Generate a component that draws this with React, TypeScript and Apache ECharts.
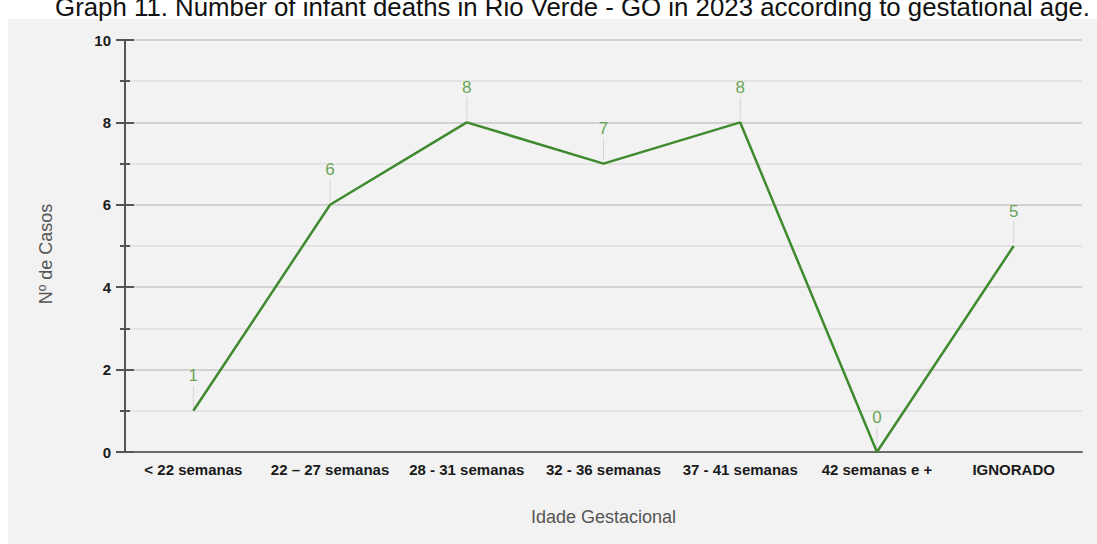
import React, { useEffect, useRef } from "react";
import * as echarts from "echarts";

const categories = [
  "< 22 semanas",
  "22 – 27 semanas",
  "28 - 31 semanas",
  "32 - 36 semanas",
  "37 - 41 semanas",
  "42 semanas e +",
  "IGNORADO",
];
const casos = [1, 6, 8, 7, 8, 0, 5];
const yTicks = [0, 2, 4, 6, 8, 10];

const titleText =
  "Graph 11. Number of infant deaths in Rio Verde - GO in 2023 according to gestational age.";

export default function App() {
  const ref = useRef<HTMLDivElement>(null);
  useEffect(() => {
    if (!ref.current) return;
    const chart = echarts.init(ref.current, null, { renderer: "svg" });
    const font = "'Liberation Sans', Arial, sans-serif";
    const yMin = yTicks[0];
    const yMax = yTicks[yTicks.length - 1];
    chart.setOption({
      animation: false,
      backgroundColor: "#ffffff",
      textStyle: { fontFamily: font },
      graphic: [
        {
          type: "rect",
          z: -10,
          silent: true,
          shape: { x: 8, y: 19, width: 1089, height: 525 },
          style: { fill: "#f2f2f2" },
        },
        {
          type: "text",
          x: 1090,
          y: 20,
          style: {
            text: titleText,
            font: `25.8px ${font}`,
            fill: "#111111",
            textAlign: "right",
            textVerticalAlign: "bottom",
          },
        },
      ],
      grid: { left: 125, right: 15, top: 40, bottom: 92, containLabel: false },
      xAxis: {
        type: "category",
        data: categories,
        boundaryGap: true,
        axisLine: { lineStyle: { color: "#6a6a6a", width: 2 } },
        axisTick: { show: false },
        axisLabel: {
          interval: 0,
          color: "#1a1a1a",
          fontWeight: "bold",
          fontSize: 15,
          margin: 10,
          fontFamily: font,
        },
        name: "Idade Gestacional",
        nameLocation: "middle",
        nameGap: 56,
        nameTextStyle: { color: "#555555", fontSize: 18, fontFamily: font },
      },
      yAxis: [
        {
          type: "value",
          min: yMin,
          max: yMax,
          interval: 2,
          axisLine: { show: true, lineStyle: { color: "#555555", width: 2 } },
          axisTick: { show: true, length: 9, lineStyle: { color: "#555555", width: 2 } },
          minorTick: { show: true, splitNumber: 2, length: 5, lineStyle: { color: "#555555", width: 2 } },
          splitLine: { show: true, lineStyle: { color: "#d2d2d2", width: 2 } },
          minorSplitLine: { show: true, lineStyle: { color: "#dedede", width: 1.5 } },
          axisLabel: {
            color: "#1a1a1a",
            fontWeight: "bold",
            fontSize: 15,
            margin: 14,
            fontFamily: font,
          },
          name: "Nº de Casos",
          nameLocation: "middle",
          nameGap: 70,
          nameRotate: 90,
          nameTextStyle: { color: "#555555", fontSize: 18, fontFamily: font, padding: [0, 16, 0, 0] },
        },
        {
          type: "value",
          position: "left",
          min: yMin,
          max: yMax,
          interval: 2,
          axisLine: { show: false },
          axisTick: { show: true, inside: true, length: 9, lineStyle: { color: "#555555", width: 2 } },
          minorTick: { show: true, splitNumber: 2, length: 5, lineStyle: { color: "#555555", width: 2 } },
          splitLine: { show: false },
          axisLabel: { show: false },
        },
      ],
      series: [
        {
          type: "custom",
          silent: true,
          z: 1,
          data: casos.map((v, i) => [i, v]),
          renderItem: (params: any, api: any) => {
            const p = api.coord([api.value(0), api.value(1)]);
            return {
              type: "line",
              shape: { x1: p[0], y1: p[1] - 3, x2: p[0], y2: p[1] - 25 },
              style: { stroke: "#d4d4d4", lineWidth: 1 },
            };
          },
        },
        {
          type: "line",
          data: casos,
          z: 3,
          symbol: "circle",
          symbolSize: 1,
          showSymbol: true,
          itemStyle: { color: "rgba(0,0,0,0)" },
          lineStyle: { color: "#3f8a2e", width: 2.5 },
          label: {
            show: true,
            position: "top",
            distance: 26,
            color: "#6aa657",
            fontSize: 17,
            fontFamily: font,
          },
        },
      ],
    });
    return () => chart.dispose();
  }, []);
  return (
    <div
      ref={ref}
      style={{ position: "fixed", left: 0, top: 0, width: 1097, height: 544 }}
    />
  );
}
